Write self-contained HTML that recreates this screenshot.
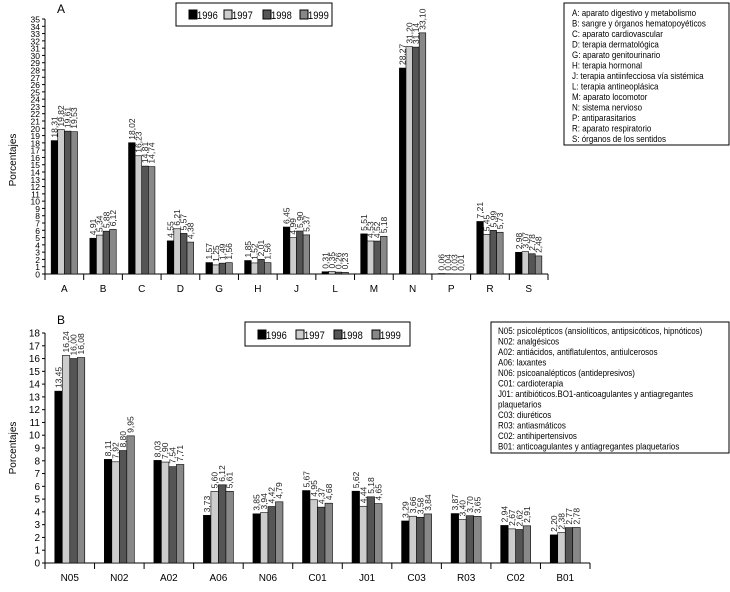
<!DOCTYPE html>
<html><head><meta charset="utf-8"><style>
body{margin:0;background:#fff;font-family:"Liberation Sans",sans-serif}
svg text{font-family:"Liberation Sans",sans-serif}
</style></head><body>
<svg id="s" width="730" height="587" viewBox="0 0 730 587" xmlns="http://www.w3.org/2000/svg">
<text x="57" y="13" font-size="12">A</text>
<text x="57" y="324" font-size="12">B</text>
<text transform="translate(16,160) rotate(-90)" text-anchor="middle" font-size="10">Porcentajes</text>
<text transform="translate(16,448) rotate(-90)" text-anchor="middle" font-size="10">Porcentajes</text>
<g>
<rect x="176" y="3" width="156" height="23" fill="#fff" stroke="#000"/>
<rect x="189" y="10" width="8" height="9" fill="#000" stroke="#000"/><text transform="translate(197,19) scale(0.85,1)" font-size="11">1996</text>
<rect x="224" y="10" width="8" height="9" fill="#ccc" stroke="#000"/><text transform="translate(232,19) scale(0.85,1)" font-size="11">1997</text>
<rect x="263" y="10" width="8" height="9" fill="#555" stroke="#000"/><text transform="translate(271,19) scale(0.85,1)" font-size="11">1998</text>
<rect x="300" y="10" width="8" height="9" fill="#888" stroke="#000"/><text transform="translate(308,19) scale(0.85,1)" font-size="11">1999</text>
</g>
<g>
<rect x="245" y="322" width="165" height="24" fill="#fff" stroke="#000"/>
<rect x="258" y="330" width="8" height="9" fill="#000" stroke="#000"/><text transform="translate(266,339) scale(0.85,1)" font-size="11">1996</text>
<rect x="296" y="330" width="8" height="9" fill="#ccc" stroke="#000"/><text transform="translate(304,339) scale(0.85,1)" font-size="11">1997</text>
<rect x="334" y="330" width="8" height="9" fill="#555" stroke="#000"/><text transform="translate(342,339) scale(0.85,1)" font-size="11">1998</text>
<rect x="372" y="330" width="8" height="9" fill="#888" stroke="#000"/><text transform="translate(380,339) scale(0.85,1)" font-size="11">1999</text>
</g>
<g>
<rect x="564" y="3" width="165" height="142" fill="#fff" stroke="#000"/>
<text font-size="9.5" transform="translate(572,0) scale(0.84,1)">
<tspan x="0" y="16">A: aparato digestivo y metabolismo</tspan>
<tspan x="0" y="26.5">B: sangre y órganos hematopoyéticos</tspan>
<tspan x="0" y="37">C: aparato cardiovascular</tspan>
<tspan x="0" y="47.5">D: terapia dermatológica</tspan>
<tspan x="0" y="58">G: aparato genitourinario</tspan>
<tspan x="0" y="68.5">H: terapia hormonal</tspan>
<tspan x="0" y="79">J: terapia antiinfecciosa vía sistémica</tspan>
<tspan x="0" y="89.5">L: terapia antineoplásica</tspan>
<tspan x="0" y="100">M: aparato locomotor</tspan>
<tspan x="0" y="110.5">N: sistema nervioso</tspan>
<tspan x="0" y="121">P: antiparasitarios</tspan>
<tspan x="0" y="131.5">R: aparato respiratorio</tspan>
<tspan x="0" y="142">S: órganos de los sentidos</tspan>
</text></g>
<g>
<rect x="491" y="322" width="238" height="131" fill="#fff" stroke="#000"/>
<text font-size="9.5" transform="translate(498,0) scale(0.84,1)">
<tspan x="0" y="334">N05: psicolépticos (ansiolíticos, antipsicóticos, hipnóticos)</tspan>
<tspan x="0" y="344.5">N02: analgésicos</tspan>
<tspan x="0" y="355">A02: antiácidos, antiflatulentos, antiulcerosos</tspan>
<tspan x="0" y="365.5">A06: laxantes</tspan>
<tspan x="0" y="376">N06: psicoanalépticos (antidepresivos)</tspan>
<tspan x="0" y="386.5">C01: cardioterapia</tspan>
<tspan x="0" y="397">J01: antibióticos.BO1-anticoagulantes y antiagregantes</tspan>
<tspan x="0" y="407.5">plaquetarios</tspan>
<tspan x="0" y="418">C03: diuréticos</tspan>
<tspan x="0" y="428.5">R03: antiasmáticos</tspan>
<tspan x="0" y="439">C02: antihipertensivos</tspan>
<tspan x="0" y="449.5">B01: anticoagulantes y antiagregantes plaquetarios</tspan>
</text></g>
</svg>
<script>
const catsA=["A","B","C","D","G","H","J","L","M","N","P","R","S"];
const a1996=[18.31,4.91,18.02,4.55,1.57,1.85,6.45,0.31,5.51,28.27,0.06,7.21,2.98];
const a1997=[19.82,5.34,16.23,6.21,1.25,1.52,4.99,0.35,4.53,31.20,0.04,5.45,3.07];
const a1998=[19.61,5.88,14.81,5.57,1.49,2.01,5.90,0.26,4.52,31.14,0.03,5.99,2.78];
const a1999=[19.53,6.12,14.74,4.38,1.56,1.56,5.37,0.23,5.18,33.10,0.01,5.73,2.48];
const catsB=["N05","N02","A02","A06","N06","C01","J01","C03","R03","C02","B01"];
const b1996=[13.45,8.11,8.03,3.73,3.85,5.67,5.62,3.29,3.87,2.94,2.20];
const b1997=[16.24,7.92,7.90,5.60,3.94,4.95,4.44,3.66,3.40,2.67,2.38];
const b1998=[16.00,8.80,7.54,6.12,4.42,4.37,5.18,3.58,3.70,2.62,2.77];
const b1999=[16.08,9.95,7.71,5.61,4.79,4.68,4.65,3.84,3.65,2.91,2.78];
const fills=["#000","#ccc","#555","#888"];
const svg=document.getElementById('s');
const NS="http://www.w3.org/2000/svg";
function mk(t,at,txt){const e=document.createElementNS(NS,t);for(const k in at)e.setAttribute(k,at[k]);if(txt!==undefined)e.textContent=txt;svg.appendChild(e);return e;}
function chart(c,cats,series,id){
 const y=v=>c.y0-v*(c.y0-c.yTop)/c.max;
 const bw=(c.x1-c.x0)/cats.length;
 let ax=mk('line',{x1:c.x0,y1:c.y0,x2:c.x1,y2:c.y0,stroke:'#000'});
 
 
 let ay=mk('line',{x1:c.x0,y1:c.y0,x2:c.x0,y2:c.yTop,stroke:'#000'});
 
 
 for(let v=0;v<=c.max;v++){
  mk('line',{x1:c.x0-3,x2:c.x0,y1:y(v),y2:y(v),stroke:'#000'});
  let t=mk('text',{x:c.x0-5,y:y(v)+3.5,'font-size':c.tf,'text-anchor':'end'},String(v));
  
  
 }
 for(let i=0;i<=cats.length;i++){mk('line',{x1:c.x0+i*bw,x2:c.x0+i*bw,y1:c.y0,y2:c.y0+6,stroke:'#000'});}
 cats.forEach((cat,i)=>{
  const cx=c.x0+(i+0.5)*bw;
  let t=mk('text',{x:cx,y:c.y0+18,'font-size':10,'text-anchor':'middle'},cat);
  
  
  series.forEach((s,k)=>{
   const bx=cx-2*c.w+k*c.w;
   let r=mk('rect',{x:bx,y:y(s[i]),width:c.w,height:c.y0-y(s[i]),fill:fills[k],stroke:'#000','stroke-width':0.6});
   
   
   const lx=bx+c.w/2+3, ly=y(s[i])-3;
   let l=mk('text',{transform:`translate(${lx},${ly}) rotate(-90)`,'font-size':8.5,fill:'#222'},s[i].toFixed(2).replace('.',','));
   
   
  });
 });
}
chart({x0:45,x1:548,y0:274,yTop:19,max:35,w:6.6,tf:8.5},catsA,[a1996,a1997,a1998,a1999],'chart-a');
chart({x0:45,x1:590,y0:563,yTop:333,max:18,w:7.5,tf:10},catsB,[b1996,b1997,b1998,b1999],'chart-b');
</script>
</body></html>
